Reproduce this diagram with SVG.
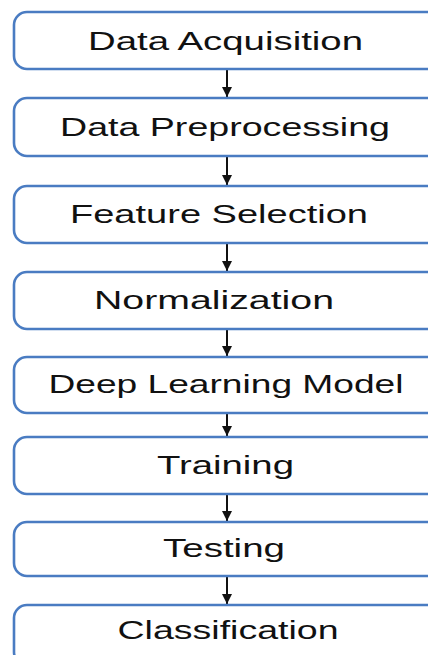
<svg xmlns="http://www.w3.org/2000/svg" width="428" height="655" viewBox="0 0 428 655">
<defs>
<marker id="ah" viewBox="0 0 10 10" refX="10" refY="5" markerWidth="5" markerHeight="6" orient="auto" markerUnits="strokeWidth">
<path d="M0,0 L10,5 L0,10 z" fill="#111"/>
</marker>
<style>
.box{fill:#fff;stroke:#4a7cc2;stroke-width:2.6}
.t{font-family:"Liberation Sans",Arial,sans-serif;font-size:25px;fill:#111;text-anchor:middle}
.c{stroke:#111;stroke-width:2;fill:none}
</style>
</defs>
<rect width="428" height="655" fill="#fff"/>
<g id="connectors">
<line class="c" x1="227" y1="70" x2="227" y2="97" marker-end="url(#ah)"/>
<line class="c" x1="227" y1="157" x2="227" y2="185" marker-end="url(#ah)"/>
<line class="c" x1="227" y1="244" x2="227" y2="271" marker-end="url(#ah)"/>
<line class="c" x1="227" y1="330" x2="227" y2="356" marker-end="url(#ah)"/>
<line class="c" x1="227" y1="414" x2="227" y2="436" marker-end="url(#ah)"/>
<line class="c" x1="227" y1="495" x2="227" y2="521" marker-end="url(#ah)"/>
<line class="c" x1="227" y1="577" x2="227" y2="604" marker-end="url(#ah)"/>
</g>
<g id="n1"><rect class="box" x="14" y="12" width="430" height="57" rx="13"/><text class="t" x="225.5" y="50" textLength="275" lengthAdjust="spacingAndGlyphs">Data Acquisition</text></g>
<g id="n2"><rect class="box" x="14" y="98" width="430" height="58" rx="13"/><text class="t" x="225" y="136" textLength="330" lengthAdjust="spacingAndGlyphs">Data Preprocessing</text></g>
<g id="n3"><rect class="box" x="14" y="186" width="430" height="57" rx="13"/><text class="t" x="219" y="223" textLength="298" lengthAdjust="spacingAndGlyphs">Feature Selection</text></g>
<g id="n4"><rect class="box" x="14" y="272" width="430" height="57" rx="13"/><text class="t" x="214" y="309" textLength="240" lengthAdjust="spacingAndGlyphs">Normalization</text></g>
<g id="n5"><rect class="box" x="14" y="357" width="430" height="56" rx="13"/><text class="t" x="226" y="393" textLength="355" lengthAdjust="spacingAndGlyphs">Deep Learning Model</text></g>
<g id="n6"><rect class="box" x="14" y="437" width="430" height="57" rx="13"/><text class="t" x="225.5" y="474" textLength="137" lengthAdjust="spacingAndGlyphs">Training</text></g>
<g id="n7"><rect class="box" x="14" y="522" width="430" height="54" rx="13"/><text class="t" x="224" y="557" textLength="122" lengthAdjust="spacingAndGlyphs">Testing</text></g>
<g id="n8"><rect class="box" x="14" y="605" width="430" height="60" rx="13"/><text class="t" x="228" y="639" textLength="221" lengthAdjust="spacingAndGlyphs">Classification</text></g>
</svg>
